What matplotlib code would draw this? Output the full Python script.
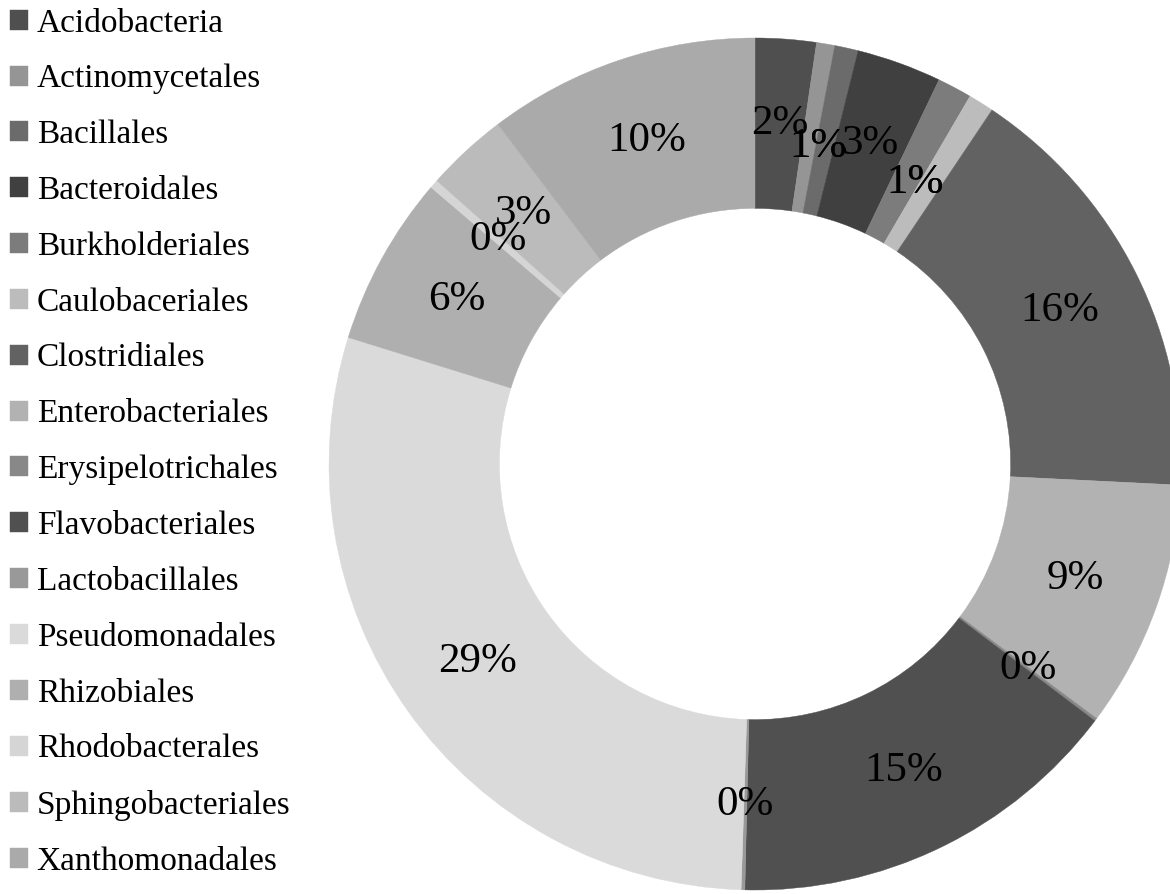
import matplotlib
matplotlib.use("Agg")
import matplotlib.pyplot as plt
import numpy as np

# order abundances (% of reads), clockwise from 12 o'clock
orders = ["Acidobacteria", "Actinomycetales", "Bacillales", "Bacteroidales",
          "Burkholderiales", "Caulobaceriales", "Clostridiales",
          "Enterobacteriales", "Erysipelotrichales", "Flavobacteriales",
          "Lactobacillales", "Pseudomonadales", "Rhizobiales",
          "Rhodobacterales", "Sphingobacteriales", "Xanthomonadales"]
share = [2.31, 0.69, 0.89, 3.22, 1.31, 0.97, 16.40, 9.40, 0.11, 15.08,
         0.14, 29.28, 6.45, 0.33, 3.11, 10.31]
greys = ["#4f4f4f", "#959595", "#6b6b6b", "#404040", "#7c7c7c", "#bcbcbc",
         "#626262", "#b2b2b2", "#888888", "#505050", "#999999", "#dadada",
         "#afafaf", "#d5d5d5", "#bbbbbb", "#aaaaaa"]

# neighbouring thin slices whose labels share one spot
shared_labels = [(1, 2), (4, 5)]

plt.rcParams["font.family"] = ["Liberation Serif", "DejaVu Serif"]

W, H = 1170, 894
fig = plt.figure(figsize=(W / 100, H / 100), dpi=100)

cx, cy, R = 755, 464, 426
ax = fig.add_axes([(cx - R) / W, (H - cy - R) / H, 2 * R / W, 2 * R / H])

wedges, _, pcts = ax.pie(
    share, colors=greys, startangle=90, counterclock=False, radius=1,
    autopct="%.0f%%", pctdistance=0.8,
    wedgeprops=dict(width=0.4, linewidth=0.3),
    textprops=dict(fontsize=31, color="black"))
for w, c in zip(wedges, greys):
    w.set_edgecolor(c)

for group in shared_labels:
    t1 = min(wedges[i].theta1 for i in group)
    t2 = max(wedges[i].theta2 for i in group)
    mid = np.deg2rad((t1 + t2) / 2)
    for i in group:
        pcts[i].set_position((0.76 * np.cos(mid), 0.76 * np.sin(mid)))

# pie() resets the limits, so pin them afterwards
ax.set_xlim(-1, 1)
ax.set_ylim(-1, 1)
ax.set_aspect("equal")
ax.axis("off")

fig.legend(wedges, orders, loc="upper left", bbox_to_anchor=(10 / W, 1 - 8 / H),
           frameon=False, fontsize=24, handlelength=0.55, handleheight=0.55,
           handletextpad=0.25, labelspacing=0.76, borderpad=0, borderaxespad=0)

fig.savefig("out.png", dpi=100)
